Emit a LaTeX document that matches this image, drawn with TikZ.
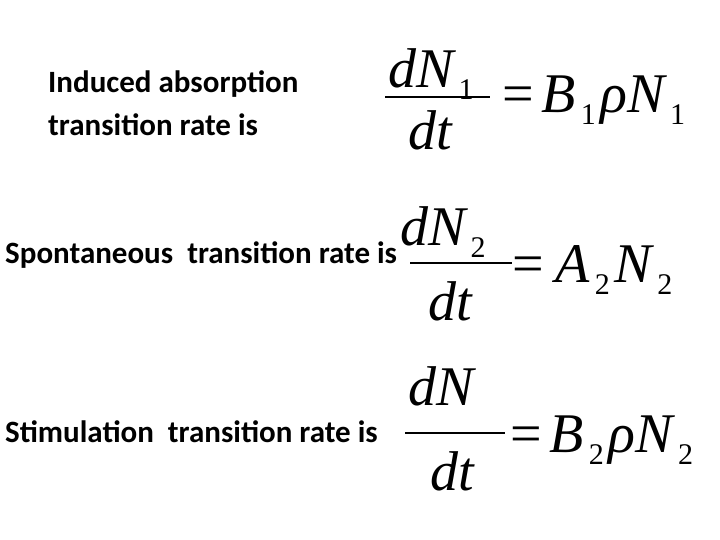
\documentclass[tikz,border=0pt]{standalone}
\usepackage{fontspec}
\setmainfont{Carlito}
\newfontfamily\mf{Liberation Serif}
\newcommand{\sbx}[1]{\hspace{5pt}\raisebox{-12pt}{\fontsize{30}{30}\selectfont\upshape #1}\hspace{5pt}}
\begin{document}
\begin{tikzpicture}[x=1pt,y=-1pt,
  lab/.style={anchor=base west,inner sep=0,font=\fontsize{31}{36}\selectfont\bfseries},
  mth/.style={anchor=base west,inner sep=0,font=\fontsize{56}{56}\selectfont\mf\itshape},
  frac/.style={line width=1.6pt}]
\useasboundingbox (0,0) rectangle (720,540);
\node[lab] (t1a) at (48,93) {Induced absorption};
\node[lab] (t1b) at (48,136) {transition rate is};
\node[mth] (n1) at (388,88) {dN\sbx{1}};
\node[mth] (d1) at (408,150) {dt};
\coordinate (l1a) at (385,97); \coordinate (l1b) at (490,97);
\draw[frac] (l1a) -- (l1b);
\node[mth] (r1) at (502,113) {\upshape=\hspace{8pt}\itshape B\sbx{1}ρN\sbx{1}};

\node[lab] (t2) at (5,263) {Spontaneous\ \ transition rate is};
\node[mth] (n2) at (400,245) {dN\sbx{2}};
\node[mth] (d2) at (428,320) {dt};
\coordinate (l2a) at (410,263); \coordinate (l2b) at (512,263);
\draw[frac] (l2a) -- (l2b);
\node[mth] (r2) at (512,282) {\upshape=\hspace{12pt}\itshape A\sbx{2}N\sbx{2}};

\node[lab] (t3) at (5,442) {Stimulation\ \ transition rate is};
\node[mth] (n3) at (408,405) {dN};
\node[mth] (d3) at (430,490) {dt};
\coordinate (l3a) at (405,433); \coordinate (l3b) at (505,433);
\draw[frac] (l3a) -- (l3b);
\node[mth] (r3) at (510,452) {\upshape=\hspace{8pt}\itshape B\sbx{2}ρN\sbx{2}};
\end{tikzpicture}
\end{document}
